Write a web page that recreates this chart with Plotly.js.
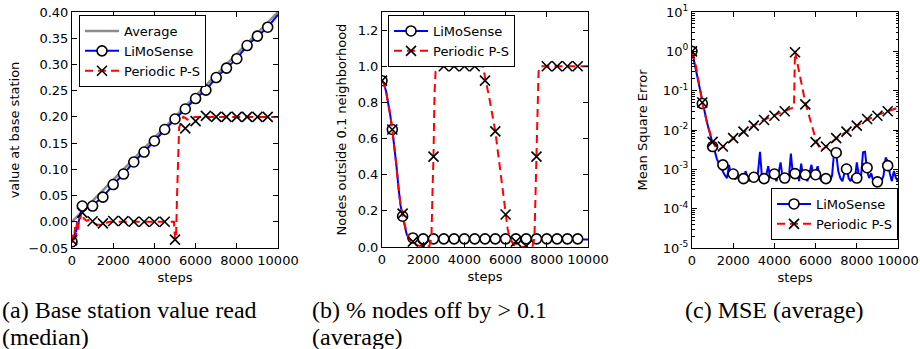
<!DOCTYPE html>
<html>
<head>
<meta charset="utf-8">
<script src="https://cdn.plot.ly/plotly-3.0.1.min.js"></script>
<style>html,body{margin:0;padding:0;background:#fff;}#chart{width:920px;height:349px;}</style>
</head>
<body>
<div id="chart"></div>
<script>
// ---------- shared ----------
var markerSteps = [0,500,1000,1500,2000,2500,3000,3500,4000,4500,5000,5500,6000,6500,7000,7500,8000,8500,9000,9500];
var xTickVals = [0,2000,4000,6000,8000,10000];

// ---------- panel (a): base station value (median) ----------
var avgSteps = [0,2000,4000,6000,8000,10000];
var avgVals  = [0.0,0.08,0.16,0.24,0.32,0.40];

var aLimoLineSteps = [0,50,100,150,200,250,300,350,400,450,500,1000,1500,2000,2500,3000,3500,4000,4500,5000,5500,6000,6500,7000,7500,8000,8500,9000,9500,10000];
var aLimoLineVals  = [-0.045,-0.03,-0.035,-0.015,-0.02,0.0,-0.005,0.01,0.015,0.02,0.03,0.032,0.047,0.071,0.091,0.114,0.133,0.154,0.176,0.196,0.215,0.235,0.251,0.275,0.293,0.311,0.336,0.354,0.371,0.395];
var aLimoMarks = [-0.038,0.030,0.030,0.047,0.071,0.091,0.114,0.133,0.154,0.176,0.196,0.215,0.235,0.251,0.275,0.293,0.311,0.336,0.354,0.371];

var aPpsLineSteps = [0,50,100,150,200,250,300,350,400,450,500,600,700,800,900,1000,1200,1400,1600,1800,2000,3000,4000,4950,5000,5050,5100,5150,5200,5300,5400,5500,5600,5800,6000,6500,7000,8000,9000,10000];
var aPpsLineVals  = [-0.04,-0.02,-0.035,-0.01,-0.03,0.0,-0.015,0.01,0.005,0.015,0.013,0.005,0.002,0.003,0.0,-0.002,-0.005,-0.006,-0.003,0.0,0.0,0.0,0.0,0.0,-0.034,-0.03,0.05,0.14,0.18,0.19,0.2,0.198,0.195,0.198,0.2,0.2,0.2,0.2,0.2,0.2];
var aPpsMarks = [-0.035,0.0175,0.001,-0.003,0.0015,0.0015,0.0,0.0,0.0,0.0,-0.034,0.178,0.192,0.202,0.2,0.2,0.2,0.2,0.2,0.2];

// ---------- panel (b): fraction of nodes off by > 0.1 ----------
var bLimoLineSteps = [0,100,200,300,400,500,600,700,800,900,1000,1100,1200,1300,1400,1500,10000];
var bLimoLineVals  = [0.92,0.90,0.86,0.80,0.73,0.65,0.56,0.45,0.33,0.23,0.17,0.11,0.07,0.05,0.045,0.045,0.042];
var bLimoMarks = [0.92,0.65,0.17,0.05,0.045,0.045,0.045,0.045,0.045,0.045,0.045,0.045,0.045,0.045,0.045,0.045,0.045,0.045,0.045,0.045];

var bPpsLineSteps = [0,100,200,300,400,500,600,700,800,900,1000,1100,1200,1300,1400,1500,1700,2000,2300,2400,2450,2500,2550,2600,2700,4900,5000,5200,5500,5800,6000,6100,6200,6400,6600,7300,7400,7450,7500,7550,7600,7700,10000];
var bPpsLineVals  = [0.92,0.90,0.86,0.80,0.73,0.65,0.56,0.45,0.33,0.23,0.17,0.12,0.08,0.05,0.035,0.025,0.01,0.003,0.005,0.05,0.3,0.5,0.85,0.97,1.0,1.0,0.94,0.83,0.64,0.37,0.19,0.1,0.05,0.01,0.0,0.0,0.05,0.3,0.5,0.85,0.97,1.0,1.0];
var bPpsMarks = [0.92,0.65,0.185,0.03,0.005,0.5,1.0,1.0,1.0,1.0,0.92,0.64,0.18,0.03,0.005,0.5,1.0,1.0,1.0,1.0];

// ---------- panel (c): MSE (average) ----------
var cLimoLineSteps = [0,100,200,300,400,500,600,700,800,900,1000,1100,1200,1300,1400,
  1500,1600,1700,1800,1900,2000,2100,2200,2300,2400,2500,2600,2700,2800,2900,3000,3100,3200,3300,3400,3500,3600,3700,3800,3900,4000,
  4100,4200,4300,4400,4500,4600,4700,4800,4900,5000,5100,5200,5300,5400,5500,5600,5700,5800,5900,6000,6100,6200,6300,6400,6500,
  6600,6700,6800,6900,7000,7100,7200,7300,7400,7500,7600,7700,7800,7900,8000,8100,8200,8300,8400,8500,8600,8700,8800,8900,9000,
  9100,9200,9300,9400,9500,9600,9700,9800,9900,10000];
var cLimoLineVals = [1.0,0.55,0.3,0.16,0.09,0.05,0.03,0.018,0.011,0.0068,0.0042,0.0028,0.0019,0.0014,0.0011,
  0.0009,0.0007,0.0006,0.0013,0.0006,0.0008,0.00055,0.0007,0.0005,0.00065,0.00055,0.0009,0.0006,0.0005,0.0008,0.0006,0.00055,0.0008,0.0028,0.0006,0.0005,0.0007,0.0012,0.0006,0.0009,0.0007,
  0.0005,0.0008,0.0015,0.0006,0.0005,0.0007,0.0006,0.0025,0.0007,0.0006,0.0009,0.0005,0.0014,0.0006,0.0007,0.0005,0.0008,0.0013,0.0006,0.0009,0.0012,0.0006,0.0005,0.0007,0.0005,
  0.0006,0.0005,0.0007,0.0028,0.0025,0.0009,0.0006,0.0005,0.0008,0.0014,0.0006,0.0005,0.0007,0.0005,0.0015,0.0007,0.0006,0.0027,0.0028,0.0009,0.0006,0.0008,0.0005,0.0006,0.00045,
  0.0006,0.0005,0.0007,0.002,0.0016,0.0008,0.0005,0.0009,0.0006,0.0005];
var cLimoMarks = [1.0,0.047,0.0038,0.0013,0.00076,0.00058,0.00063,0.00058,0.00076,0.0006,0.00078,0.00073,0.00073,0.00058,0.00265,0.00102,0.0006,0.0011,0.00048,0.00124];

var cPpsLineSteps = [0,200,400,500,700,900,1000,1250,1500,2000,2500,3000,3500,4000,4500,4950,5000,5500,6000,6250,6500,7000,7500,8000,8500,9000,9500,10000];
var cPpsLineVals  = [1.0,0.4,0.1,0.05,0.018,0.007,0.005,0.003,0.0037,0.006,0.009,0.013,0.018,0.024,0.03,0.038,1.0,0.05,0.006,0.003,0.0037,0.006,0.009,0.013,0.018,0.024,0.03,0.037];
var cPpsMarks = [1.0,0.05,0.005,0.0038,0.0062,0.0091,0.0129,0.0179,0.023,0.030,0.95,0.045,0.0049,0.0038,0.0062,0.0091,0.0129,0.019,0.023,0.030];

var logTickVals = [1e-5,1e-4,1e-3,1e-2,1e-1,1,10];
var logTickText = ['10<sup>-5</sup>','10<sup>-4</sup>','10<sup>-3</sup>','10<sup>-2</sup>','10<sup>-1</sup>','10<sup>0</sup>','10<sup>1</sup>'];

// ---------- styles ----------
var BLUE = '#0000ff', RED = '#ff0000', GREY = '#8c8c8c';
var FONT = 'DejaVu Sans, sans-serif';
var circleMarker = {symbol:'circle', size:10, color:'white', line:{color:'black', width:1.6}};
var xMarker = {symbol:'x-thin', size:10, color:'black', line:{color:'black', width:1.6}};
var blueLine = {color:BLUE, width:2};
var redLine = {color:RED, width:2, dash:'8px,5px'};
var greyLine = {color:GREY, width:2.5};

function lineTrace(x, y, line, xa, ya){ return {x:x, y:y, mode:'lines', line:line, xaxis:xa, yaxis:ya, showlegend:false, hoverinfo:'skip'}; }
function markTrace(x, y, marker, xa, ya){ return {x:x, y:y, mode:'markers', marker:marker, xaxis:xa, yaxis:ya, showlegend:false, hoverinfo:'skip'}; }
function legTrace(name, line, marker, xa, ya, leg){
  var t = {x:[null], y:[null], name:name, mode: marker ? 'lines+markers' : 'lines', line:line, xaxis:xa, yaxis:ya, legend:leg, showlegend:true};
  if(marker) t.marker = marker;
  return t;
}

var data = [
  // (a)
  lineTrace(avgSteps, avgVals, greyLine, 'x', 'y'),
  lineTrace(aLimoLineSteps, aLimoLineVals, blueLine, 'x', 'y'),
  markTrace(markerSteps, aLimoMarks, circleMarker, 'x', 'y'),
  lineTrace(aPpsLineSteps, aPpsLineVals, redLine, 'x', 'y'),
  markTrace(markerSteps, aPpsMarks, xMarker, 'x', 'y'),
  legTrace('Average', greyLine, null, 'x', 'y', 'legend'),
  legTrace('LiMoSense', blueLine, circleMarker, 'x', 'y', 'legend'),
  legTrace('Periodic P-S', redLine, xMarker, 'x', 'y', 'legend'),
  // (b)
  lineTrace(bLimoLineSteps, bLimoLineVals, blueLine, 'x2', 'y2'),
  markTrace(markerSteps, bLimoMarks, circleMarker, 'x2', 'y2'),
  lineTrace(bPpsLineSteps, bPpsLineVals, redLine, 'x2', 'y2'),
  markTrace(markerSteps, bPpsMarks, xMarker, 'x2', 'y2'),
  legTrace('LiMoSense', blueLine, circleMarker, 'x2', 'y2', 'legend2'),
  legTrace('Periodic P-S', redLine, xMarker, 'x2', 'y2', 'legend2'),
  // (c)
  lineTrace(cLimoLineSteps, cLimoLineVals, blueLine, 'x3', 'y3'),
  markTrace(markerSteps, cLimoMarks, circleMarker, 'x3', 'y3'),
  lineTrace(cPpsLineSteps, cPpsLineVals, redLine, 'x3', 'y3'),
  markTrace(markerSteps, cPpsMarks, xMarker, 'x3', 'y3'),
  legTrace('LiMoSense', blueLine, circleMarker, 'x3', 'y3', 'legend3'),
  legTrace('Periodic P-S', redLine, xMarker, 'x3', 'y3', 'legend3')
];

var W = 920, H = 349;
function px(v){ return v / W; }
function py(v){ return 1 - v / H; }
var tickFont = {family:FONT, size:13, color:'black'};
var titleFont = {family:FONT, size:13, color:'black'};

function axis(extra){
  return Object.assign({
    showline:true, linecolor:'black', linewidth:1, mirror:'ticks',
    ticks:'inside', ticklen:5, tickwidth:1, tickcolor:'black',
    showgrid:false, zeroline:false, tickfont:tickFont, automargin:false
  }, extra);
}
function xaxis(d0, d1, anchor){
  return axis({domain:[px(d0), px(d1)], anchor:anchor, range:[0,10000], tickmode:'array', tickvals:xTickVals, tickformat:'d',
    title:{text:'steps', font:titleFont, standoff:6}});
}

var legendBase = {bgcolor:'white', bordercolor:'black', borderwidth:1, font:{family:FONT, size:13, color:'black'}, itemwidth:34, tracegroupgap:0, itemclick:false, itemdoubleclick:false};

var captionFont = {family:'Liberation Serif, serif', size:24, color:'black'};
function caption(text, x, y){
  return {text:text, xref:'paper', yref:'paper', x:px(x), y:py(y), xanchor:'left', yanchor:'middle', showarrow:false, font:captionFont};
}

var layout = {
  width:W, height:H,
  margin:{l:0, r:0, t:0, b:0, pad:0},
  paper_bgcolor:'white', plot_bgcolor:'white',
  xaxis: xaxis(72, 278, 'y'),
  yaxis: axis({domain:[py(248), py(12)], anchor:'x', range:[-0.05,0.40], dtick:0.05, tick0:0, tickformat:'.2f',
    title:{text:'value at base station', font:titleFont, standoff:6}}),
  xaxis2: xaxis(382, 588, 'y2'),
  yaxis2: axis({domain:[py(247), py(12)], anchor:'x2', range:[0,1.3], dtick:0.2, tick0:0, tickformat:'.1f',
    title:{text:'Nodes outside 0.1 neighborhood', font:titleFont, standoff:8}}),
  xaxis3: xaxis(692, 898, 'y3'),
  yaxis3: axis({domain:[py(248), py(12)], anchor:'x3', type:'log', range:[-5,1], tickmode:'array', tickvals:logTickVals, ticktext:logTickText,
    minor:{ticks:'inside', ticklen:2.5, tickcolor:'black', dtick:'D1', showgrid:false},
    title:{text:'Mean Square Error', font:titleFont, standoff:12}}),
  legend: Object.assign({x:px(79), y:py(15), xanchor:'left', yanchor:'top'}, legendBase),
  legend2: Object.assign({x:px(388), y:py(15), xanchor:'left', yanchor:'top'}, legendBase),
  legend3: Object.assign({x:px(898), y:py(240), xanchor:'right', yanchor:'bottom'}, legendBase),
  annotations: [
    caption('(a) Base station value read', 0, 310),
    caption('(median)', 0, 337),
    caption('(b) % nodes off by &gt; 0.1', 310, 310),
    caption('(average)', 310, 337),
    caption('(c) MSE (average)', 683, 310)
  ]
};

Plotly.newPlot('chart', data, layout, {displayModeBar:false, staticPlot:true});
</script>
</body>
</html>
